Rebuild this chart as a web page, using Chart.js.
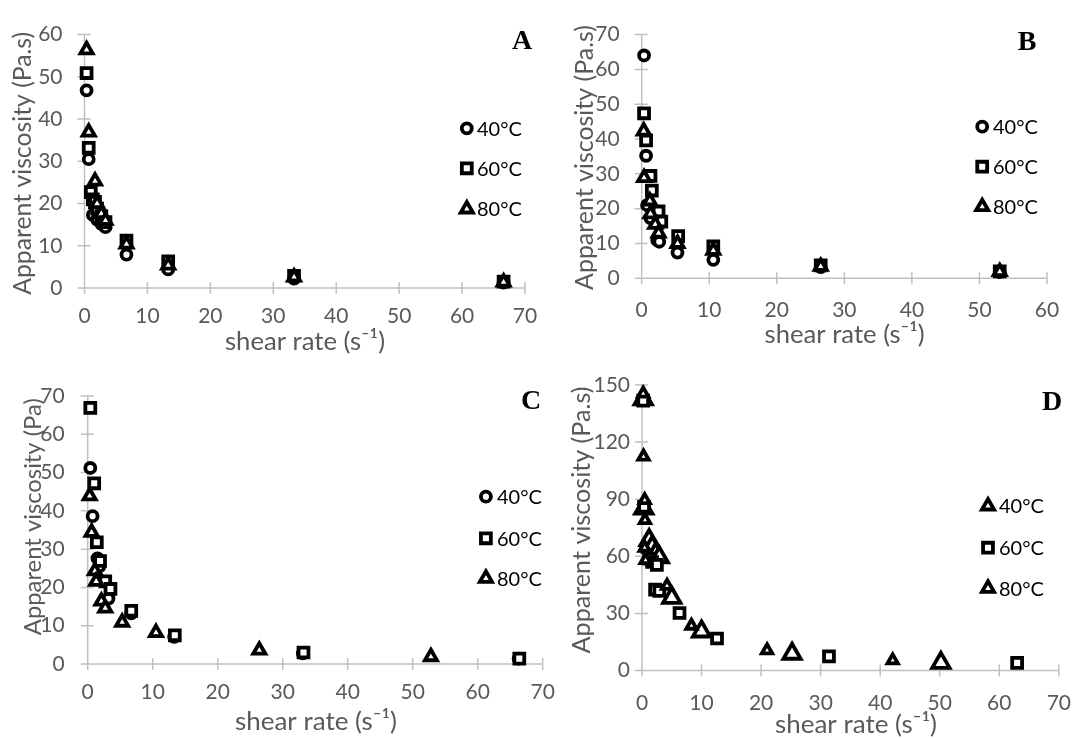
<!DOCTYPE html>
<html>
<head>
<meta charset="utf-8">
<script src="https://cdn.jsdelivr.net/npm/chart.js@4.4.1/dist/chart.umd.min.js"></script>
<style>
html,body{margin:0;padding:0;background:#ffffff;}
#wrap{position:relative;width:1091px;height:738px;overflow:hidden;background:#fff;}
#wrap canvas{position:absolute;left:0;top:0;}
</style>
</head>
<body>
<div id="wrap">
<canvas id="cA" width="1091" height="738"></canvas>
<canvas id="cB" width="1091" height="738"></canvas>
<canvas id="cC" width="1091" height="738"></canvas>
<canvas id="cD" width="1091" height="738"></canvas>
</div>
<script>
// ---------------- data ----------------
const tempLabels = ['40°C', '60°C', '80°C'];
const panelLetters = ['A', 'B', 'C', 'D'];
const yTitleAB = 'Apparent viscosity (Pa.s)';
const yTitleC = 'Apparent viscosity (Pa)';
const xTitle = 'shear rate (s\u207B\u00B9)';

const xTicksA = [0, 10, 20, 30, 40, 50, 60, 70];
const yTicksA = [0, 10, 20, 30, 40, 50, 60];
const xTicksB = [0, 10, 20, 30, 40, 50, 60];
const yTicksB = [0, 10, 20, 30, 40, 50, 60, 70];
const xTicksC = [0, 10, 20, 30, 40, 50, 60, 70];
const yTicksC = [0, 10, 20, 30, 40, 50, 60, 70];
const xTicksD = [0, 10, 20, 30, 40, 50, 60, 70];
const yTicksD = [0, 30, 60, 90, 120, 150];

// Panel A
const aShear40 = [0.33, 0.67, 1.33, 2.0, 2.67, 3.33, 6.67, 13.3, 33.3, 66.6];
const aVisc40  = [46.8, 30.5, 17.3, 16.2, 15.2, 14.4, 7.9, 4.4, 2.2, 1.3];
const aShear60 = [0.33, 0.67, 1.0, 1.33, 1.67, 2.0, 2.67, 3.33, 6.67, 13.3, 33.3, 66.6];
const aVisc60  = [50.9, 33.2, 22.7, 21.0, 20.4, 18.8, 17.0, 15.6, 11.2, 6.3, 2.9, 1.5];
const aShear80 = [0.33, 0.67, 1.67, 2.0, 2.67, 3.33, 6.67, 13.3, 33.3, 66.6];
const aVisc80  = [56.4, 36.9, 25.3, 20.0, 17.6, 16.0, 10.4, 5.4, 2.6, 1.4];

// Panel B
const bShear40 = [0.35, 0.65, 0.8, 1.3, 2.3, 2.6, 5.3, 10.6, 26.5, 53.0];
const bVisc40  = [64.0, 35.2, 21.0, 17.3, 11.0, 10.5, 7.4, 5.3, 3.2, 1.8];
const bShear60 = [0.35, 0.65, 1.3, 1.5, 2.5, 2.9, 5.4, 10.6, 26.5, 53.0];
const bVisc60  = [47.4, 39.6, 29.4, 25.2, 19.2, 16.3, 12.1, 9.2, 3.7, 2.0];
const bShear80 = [0.3, 0.35, 1.2, 1.3, 2.0, 2.5, 5.3, 10.6, 26.5, 53.0];
const bVisc80  = [42.3, 28.9, 22.2, 18.5, 15.5, 13.0, 10.0, 8.0, 3.4, 1.9];

// Panel C
const cShear40 = [0.4, 0.75, 1.5, 1.8, 3.2, 6.7, 13.3, 33.1, 66.3];
const cVisc40  = [51.2, 38.6, 27.6, 25.5, 17.1, 13.2, 7.1, 2.8, 1.4];
const cShear60 = [0.4, 1.0, 1.4, 1.9, 2.7, 3.5, 6.7, 13.4, 33.2, 66.4];
const cVisc60  = [66.9, 47.2, 31.8, 26.9, 21.6, 19.6, 13.9, 7.5, 3.0, 1.4];
const cShear80 = [0.3, 0.6, 1.1, 1.3, 2.1, 2.7, 5.3, 10.5, 26.4, 52.8];
const cVisc80  = [43.9, 34.4, 24.3, 21.6, 16.4, 14.6, 10.9, 8.2, 3.6, 1.9];

// Panel D
const dShear40 = [0.2, 0.25, 0.45, 0.5, 0.45, 0.6, 4.2, 8.3, 21.0, 42.1];
const dVisc40  = [145.5, 112.4, 89.5, 79.0, 64.5, 58.0, 44.5, 23.5, 10.6, 5.3];
const dShear60 = [0.2, 0.35, 1.2, 1.7, 2.5, 2.2, 2.9, 6.3, 12.6, 31.4, 63.0];
const dVisc60  = [141.8, 86.0, 58.8, 57.0, 55.5, 42.5, 41.8, 30.2, 16.8, 7.4, 4.0];
const dShear80 = [0.2, 0.3, 1.2, 1.7, 2.3, 2.9, 5.0, 10.0, 25.2, 50.2];
const dVisc80  = [142.5, 85.0, 68.5, 65.0, 61.5, 59.5, 38.2, 20.5, 8.8, 4.0];

// ---------------- helpers ----------------
const W = 1091, H = 738;
const FONT = 'Lato, "Open Sans", sans-serif';
const BW = 3.8;
const pts = (xs, ys) => xs.map((v, i) => ({x: v, y: ys[i]}));

function marker(ctx, style, r, x, y) {
  ctx.save();
  ctx.fillStyle = '#ffffff';
  ctx.strokeStyle = '#000000';
  ctx.lineWidth = BW;
  ctx.beginPath();
  if (style === 'circle') {
    ctx.arc(x, y, r, 0, Math.PI * 2);
  } else if (style === 'rect') {
    const s = Math.SQRT1_2 * r;
    ctx.rect(x - s, y - s, 2 * s, 2 * s);
  } else {
    let a = 0;
    ctx.moveTo(x + Math.sin(a) * r, y - Math.cos(a) * r);
    a += 2 * Math.PI / 3;
    ctx.lineTo(x + Math.sin(a) * r, y - Math.cos(a) * r);
    a += 2 * Math.PI / 3;
    ctx.lineTo(x + Math.sin(a) * r, y - Math.cos(a) * r);
    ctx.closePath();
  }
  ctx.fill();
  ctx.stroke();
  ctx.restore();
}

function fitText(ctx, text, cx, cy, len, rot, color) {
  ctx.save();
  ctx.font = '100px ' + FONT;
  const w = ctx.measureText(text).width;
  const size = 100 * len / w;
  ctx.font = size.toFixed(2) + 'px ' + FONT;
  ctx.translate(cx, cy);
  ctx.rotate(rot);
  ctx.textAlign = 'center';
  ctx.textBaseline = 'middle';
  ctx.fillStyle = color;
  ctx.fillText(text, 0, 0);
  ctx.restore();
}

const decoPlugin = {
  id: 'deco',
  beforeDatasetsDraw(chart, args, o) {
    const {ctx, chartArea: a, scales: {x, y}} = chart;
    ctx.save();
    ctx.strokeStyle = '#c0c0c0';
    ctx.lineWidth = 1.5;
    ctx.beginPath();
    ctx.moveTo(a.left, y.getPixelForValue(y.max));
    ctx.lineTo(a.left, a.bottom);
    ctx.moveTo(a.left, a.bottom);
    ctx.lineTo(x.getPixelForValue(x.max), a.bottom);
    x.ticks.forEach(t => {
      const px = x.getPixelForValue(t.value);
      ctx.moveTo(px, a.bottom - 6);
      ctx.lineTo(px, a.bottom + 6);
    });
    y.ticks.forEach(t => {
      const py = y.getPixelForValue(t.value);
      ctx.moveTo(a.left - 7, py);
      ctx.lineTo(a.left + 6, py);
    });
    ctx.stroke();
    ctx.restore();
  },
  afterDraw(chart, args, o) {
    const ctx = chart.ctx;
    fitText(ctx, o.yTitle.text, o.yTitle.x, o.yTitle.y, o.yTitle.len, -Math.PI / 2, '#595959');
    fitText(ctx, o.xTitle.text, o.xTitle.x, o.xTitle.y, o.xTitle.len, 0, '#595959');
    o.legend.items.forEach((it, i) => {
      const ly = o.legend.ys[i];
      marker(ctx, it.style, it.r, o.legend.x, ly);
      ctx.save();
      ctx.font = '20px ' + FONT;
      ctx.fillStyle = '#000000';
      ctx.textAlign = 'left';
      ctx.textBaseline = 'middle';
      ctx.fillText(it.text, o.legend.tx, ly + 1);
      ctx.restore();
    });
    ctx.save();
    ctx.font = 'bold 28px "Liberation Serif", "Times New Roman", serif';
    ctx.fillStyle = '#000000';
    ctx.textAlign = 'center';
    ctx.textBaseline = 'middle';
    ctx.fillText(o.letter.text, o.letter.x, o.letter.y);
    ctx.restore();
  }
};

function ds(label, xs, ys, style, r, order) {
  return {
    label: label,
    data: pts(xs, ys),
    showLine: false,
    pointStyle: style,
    pointRadius: r,
    pointBorderWidth: BW,
    pointBorderColor: '#000000',
    pointBackgroundColor: '#ffffff',
    clip: false,
    order: order
  };
}

function makePanel(id, p) {
  const a = p.area;
  new Chart(document.getElementById(id), {
    type: 'scatter',
    data: {datasets: p.datasets},
    options: {
      responsive: false,
      animation: false,
      events: [],
      layout: {padding: {left: 0, top: a.t, right: W - a.r, bottom: 0}},
      plugins: {legend: {display: false}, tooltip: {enabled: false}, deco: p.deco},
      scales: {
        x: {
          type: 'linear', min: 0, max: p.xTicks[p.xTicks.length - 1],
          grid: {display: false, drawTicks: false},
          border: {display: false},
          afterBuildTicks: s => { s.ticks = p.xTicks.map(v => ({value: v})); },
          afterFit: s => { s.height = H - a.b; },
          ticks: {padding: p.xPad, color: '#595959', font: {family: FONT, size: 21}, maxRotation: 0, autoSkip: false}
        },
        y: {
          type: 'linear', min: 0, max: p.yTicks[p.yTicks.length - 1],
          grid: {display: false, drawTicks: false},
          border: {display: false},
          afterBuildTicks: s => { s.ticks = p.yTicks.map(v => ({value: v})); },
          afterFit: s => { s.width = a.l; },
          ticks: {padding: p.yPad, color: '#595959', font: {family: FONT, size: 21}, autoSkip: false}
        }
      }
    },
    plugins: [decoPlugin]
  });
}

const RC = 5, RS = 7, RT = 7, RTS = 6, RTL = 10;

makePanel('cA', {
  area: {l: 84.5, r: 525, t: 23, b: 288},
  xTicks: xTicksA, yTicks: yTicksA, xPad: 16, yPad: 22,
  datasets: [
    ds(tempLabels[0], aShear40, aVisc40, 'circle', RC, 3),
    ds(tempLabels[1], aShear60, aVisc60, 'rect', RS, 2),
    ds(tempLabels[2], aShear80, aVisc80, 'triangle', RT, 1)
  ],
  deco: {
    yTitle: {text: yTitleAB, x: 22.6, y: 163.3, len: 263},
    xTitle: {text: xTitle, x: 305, y: 341.7, len: 160},
    legend: {x: 466.8, tx: 477, ys: [128.3, 168.3, 209],
      items: [{style: 'circle', r: RC, text: tempLabels[0]}, {style: 'rect', r: RS, text: tempLabels[1]}, {style: 'triangle', r: RT, text: tempLabels[2]}]},
    letter: {text: panelLetters[0], x: 522, y: 42}
  }
});

makePanel('cB', {
  area: {l: 641.7, r: 1047, t: 27.5, b: 278.3},
  xTicks: xTicksB, yTicks: yTicksB, xPad: 19, yPad: 22,
  datasets: [
    ds(tempLabels[0], bShear40, bVisc40, 'circle', RC, 3),
    ds(tempLabels[1], bShear60, bVisc60, 'rect', RS, 2),
    ds(tempLabels[2], bShear80, bVisc80, 'triangle', RT, 1)
  ],
  deco: {
    yTitle: {text: yTitleAB, x: 585, y: 157.5, len: 265},
    xTitle: {text: xTitle, x: 844.6, y: 335, len: 160},
    legend: {x: 982.2, tx: 993, ys: [126.7, 166.7, 206.7],
      items: [{style: 'circle', r: RC, text: tempLabels[0]}, {style: 'rect', r: RS, text: tempLabels[1]}, {style: 'triangle', r: RT, text: tempLabels[2]}]},
    letter: {text: panelLetters[1], x: 1027, y: 43}
  }
});

makePanel('cC', {
  area: {l: 87.7, r: 542.7, t: 396, b: 664},
  xTicks: xTicksC, yTicks: yTicksC, xPad: 16, yPad: 23,
  datasets: [
    ds(tempLabels[0], cShear40, cVisc40, 'circle', RC, 3),
    ds(tempLabels[1], cShear60, cVisc60, 'rect', RS, 2),
    ds(tempLabels[2], cShear80, cVisc80, 'triangle', RT, 1)
  ],
  deco: {
    yTitle: {text: yTitleC, x: 33, y: 516.7, len: 237},
    xTitle: {text: xTitle, x: 316, y: 721.7, len: 162},
    legend: {x: 485.9, tx: 497, ys: [496.7, 538.3, 578.3],
      items: [{style: 'circle', r: RC, text: tempLabels[0]}, {style: 'rect', r: RS, text: tempLabels[1]}, {style: 'triangle', r: RT, text: tempLabels[2]}]},
    letter: {text: panelLetters[2], x: 531, y: 402}
  }
});

makePanel('cD', {
  area: {l: 642, r: 1071, t: 385, b: 670.5},
  xTicks: xTicksD, yTicks: yTicksD, xPad: 20, yPad: 12,
  datasets: [
    ds(tempLabels[0], dShear40, dVisc40, 'triangle', RTS, 1),
    ds(tempLabels[1], dShear60, dVisc60, 'rect', RS, 2),
    ds(tempLabels[2], dShear80, dVisc80, 'triangle', RTL, 3)
  ],
  deco: {
    yTitle: {text: yTitleAB, x: 581.6, y: 520, len: 267},
    xTitle: {text: xTitle, x: 856, y: 725, len: 162},
    legend: {x: 988, tx: 999, ys: [506, 547.7, 588.3],
      items: [{style: 'triangle', r: RT, text: tempLabels[0]}, {style: 'rect', r: RS, text: tempLabels[1]}, {style: 'triangle', r: RT, text: tempLabels[2]}]},
    letter: {text: panelLetters[3], x: 1052, y: 403}
  }
});
</script>
</body>
</html>
